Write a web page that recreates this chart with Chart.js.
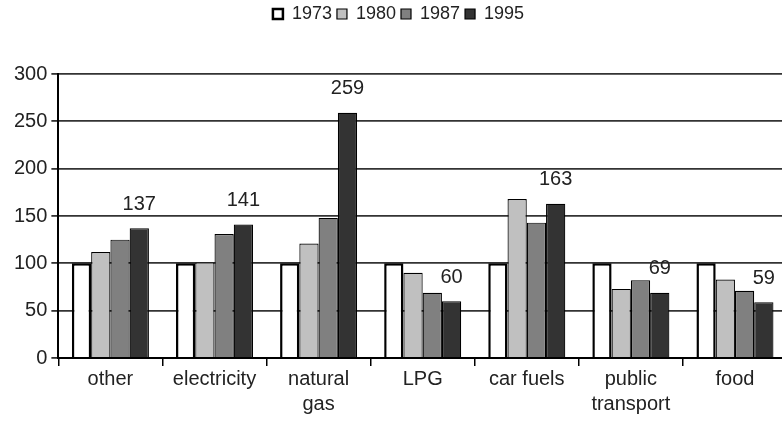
<!DOCTYPE html>
<html>
<head>
<meta charset="utf-8">
<script src="https://cdn.jsdelivr.net/npm/chart.js@4.4.1/dist/chart.umd.min.js"></script>
<style>
  html, body { margin: 0; padding: 0; background: #fff; overflow: hidden; }
  #wrap { width: 788px; height: 433px; }
</style>
</head>
<body>
<div id="wrap"><canvas id="chart" width="788" height="433"></canvas></div>
<script>
const categories = ["other", "electricity", ["natural", "gas"], "LPG", "car fuels", ["public", "transport"], "food"];
const years = ["1973", "1980", "1987", "1995"];
const v1973 = [100, 100, 100, 100, 100, 100, 100];
const v1980 = [112, 101, 121, 90, 168, 73, 83];
const v1987 = [125, 131, 148, 69, 143, 82, 71];
const v1995 = [137, 141, 259, 60, 163, 69, 59];
const yTicks = [0, 50, 100, 150, 200, 250, 300];

const fills = ["#ffffff", "#c0c0c0", "#808080", "#333333"];
const borders = [2.5, 1.2, 1.2, 1.2];
const FONT = "'Liberation Sans', Arial, sans-serif";

// labels on top of the 1995 bars
const topLabels = {
  id: "topLabels",
  afterDatasetsDraw(chart) {
    const ctx = chart.ctx;
    const meta = chart.getDatasetMeta(3);
    ctx.save();
    ctx.font = "20px " + FONT;
    ctx.fillStyle = "#222";
    ctx.textAlign = "center";
    ctx.textBaseline = "bottom";
    meta.data.forEach((bar, i) => {
      ctx.fillText(String(v1995[i]), bar.x, bar.y - 14);
    });
    ctx.restore();
  }
};

// extra room between legend and plot
const legendGap = {
  id: "legendGap",
  beforeInit(chart) {
    const fit = chart.legend.fit;
    chart.legend.fit = function () {
      fit.bind(chart.legend)();
      this.height += 41;
    };
  }
};

new Chart(document.getElementById("chart"), {
  type: "bar",
  data: {
    labels: categories,
    datasets: [v1973, v1980, v1987, v1995].map((d, i) => ({
      label: years[i],
      data: d,
      backgroundColor: fills[i],
      borderColor: "#000",
      borderWidth: borders[i],
      barPercentage: 1,
      categoryPercentage: 0.74
    }))
  },
  options: {
    responsive: false,
    animation: false,
    layout: { padding: { top: 0, left: 10, right: 1, bottom: 15 } },
    plugins: {
      legend: {
        position: "top",
        labels: {
          font: { family: FONT, size: 18 },
          color: "#222",
          boxWidth: 10,
          boxHeight: 10,
          padding: 5
        }
      },
      tooltip: { enabled: false }
    },
    scales: {
      x: {
        grid: { display: true, drawOnChartArea: false, color: "#000", tickLength: 8, lineWidth: 1.5 },
        border: { color: "#000", width: 2 },
        ticks: { font: { family: FONT, size: 20, lineHeight: 1.25 }, color: "#222", padding: 1, maxRotation: 0 }
      },
      y: {
        min: 0,
        max: 300,
        afterBuildTicks(axis) { axis.ticks = yTicks.map(v => ({ value: v })); },
        grid: { color: "#333", lineWidth: 1.8, tickLength: 7 },
        border: { color: "#000", width: 2 },
        ticks: { font: { family: FONT, size: 20 }, color: "#222", padding: 4 }
      }
    }
  },
  plugins: [topLabels, legendGap]
});
</script>
</body>
</html>
